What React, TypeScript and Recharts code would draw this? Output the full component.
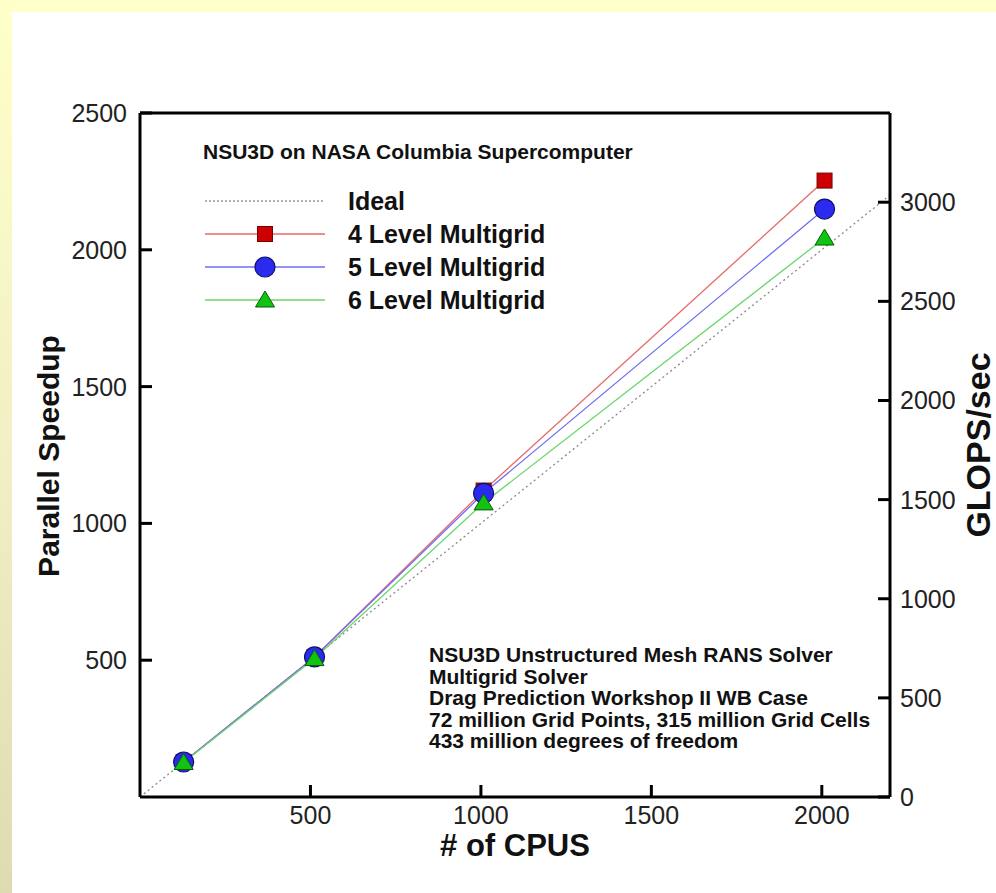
import React from "react";
import { LineChart, Line, XAxis, YAxis, ReferenceLine } from "recharts";

const cpus = [128, 512, 1008, 2008];
const speedup4 = [128, 512, 1120, 2253];
const speedup5 = [128, 512, 1110, 2149];
const speedup6 = [126, 506, 1075, 2043];
const idealCpus = [0, 2200];
const xTicks = [500, 1000, 1500, 2000];
const leftTicks = [500, 1000, 1500, 2000, 2500];
const rightTicks = [0, 500, 1000, 1500, 2000, 2500, 3000];
const legendNames = ["Ideal", "4 Level Multigrid", "5 Level Multigrid", "6 Level Multigrid"];
const chartTitle = "NSU3D on NASA Columbia Supercomputer";
const noteLines = [
  "NSU3D Unstructured Mesh RANS Solver",
  "Multigrid Solver",
  "Drag Prediction Workshop II WB Case",
  "72 million Grid Points, 315 million Grid Cells",
  "433 million degrees of freedom",
];

const mg4Data = cpus.map((c, i) => ({ cpu: c, value: speedup4[i] }));
const mg5Data = cpus.map((c, i) => ({ cpu: c, value: speedup5[i] }));
const mg6Data = cpus.map((c, i) => ({ cpu: c, value: speedup6[i] }));
const idealData = idealCpus.map((c) => ({ cpu: c, value: c }));

const FONT = "'Liberation Sans', Arial, Helvetica, sans-serif";

const RED = { line: "#E46A6A", fill: "#CC0000", stroke: "#7A0000" };
const BLUE = { line: "#6F6FF2", fill: "#2B2BF0", stroke: "#10106A" };
const GREEN = { line: "#6CD66C", fill: "#11C411", stroke: "#0A5A0A" };

const Square = (cx: number, cy: number, key?: any) => (
  <rect key={key} x={cx - 7.5} y={cy - 7.5} width={15} height={15} fill={RED.fill} stroke={RED.stroke} strokeWidth={1} />
);
const Circle = (cx: number, cy: number, key?: any) => (
  <circle key={key} cx={cx} cy={cy} r={10} fill={BLUE.fill} stroke={BLUE.stroke} strokeWidth={1.2} />
);
const Triangle = (cx: number, cy: number, key?: any) => (
  <polygon
    key={key}
    points={`${cx},${cy - 9} ${cx + 9.5},${cy + 7} ${cx - 9.5},${cy + 7}`}
    fill={GREEN.fill}
    stroke={GREEN.stroke}
    strokeWidth={1}
  />
);

const LeftTick = (props: any) => {
  const { x, y, payload } = props;
  return (
    <g>
      <line x1={x} x2={x + 12} y1={y} y2={y} stroke="#000" strokeWidth={3} />
      <text x={x - 13} y={y} textAnchor="end" dominantBaseline="central" fontSize={25} fontFamily={FONT} fill="#222">
        {payload.value}
      </text>
    </g>
  );
};

const RightTick = (props: any) => {
  const { x, y, payload } = props;
  return (
    <g>
      <line x1={x - 12} x2={x} y1={y} y2={y} stroke="#000" strokeWidth={3} />
      <text x={x + 10} y={y} textAnchor="start" dominantBaseline="central" fontSize={25} fontFamily={FONT} fill="#222">
        {payload.value}
      </text>
    </g>
  );
};

const BottomTick = (props: any) => {
  const { x, y, payload } = props;
  return (
    <g>
      <line x1={x} x2={x} y1={y - 12} y2={y} stroke="#000" strokeWidth={3} />
      <text x={x} y={y + 27} textAnchor="middle" fontSize={25} fontFamily={FONT} fill="#222">
        {payload.value}
      </text>
    </g>
  );
};

const legendColors = ["#999", RED.line, BLUE.line, GREEN.line];
const legendMarkers = [
  null,
  (cx: number, cy: number) => Square(cx, cy),
  (cx: number, cy: number) => Circle(cx, cy),
  (cx: number, cy: number) => Triangle(cx, cy),
];

export default function App() {
  return (
    <div style={{ position: "absolute", left: 0, top: 0, width: 996, height: 893, overflow: "hidden", background: "#fff" }}>
      <div style={{ position: "absolute", left: 0, top: 0, width: 996, height: 12, background: "#FFFFCA" }} />
      <div
        style={{
          position: "absolute",
          left: 0,
          top: 0,
          width: 12,
          height: 893,
          background: "linear-gradient(#FFFFCA, #F2F0C4 50%, #DEDBB0)",
        }}
      />
      <div style={{ position: "absolute", left: 0, top: 0 }}>
        <LineChart width={996} height={893} margin={{ top: 113, right: 26, bottom: 36, left: 60 }}>
          <XAxis
            dataKey="cpu"
            type="number"
            domain={[0, 2200]}
            ticks={xTicks}
            allowDataOverflow
            height={60}
            tickSize={0}
            tickMargin={0}
            tickLine={false}
            axisLine={{ stroke: "#000", strokeWidth: 3 }}
            tick={<BottomTick />}
            interval={0}
          />
          <YAxis
            yAxisId="left"
            orientation="left"
            type="number"
            domain={[0, 2500]}
            ticks={leftTicks}
            allowDataOverflow
            width={80}
            tickSize={0}
            tickMargin={0}
            tickLine={false}
            axisLine={{ stroke: "#000", strokeWidth: 3 }}
            tick={<LeftTick />}
            interval={0}
          />
          <YAxis
            yAxisId="right"
            orientation="right"
            type="number"
            domain={[0, 3450]}
            ticks={rightTicks}
            allowDataOverflow
            width={80}
            tickSize={0}
            tickMargin={0}
            tickLine={false}
            axisLine={{ stroke: "#000", strokeWidth: 3 }}
            tick={<RightTick />}
            interval={0}
          />
          <ReferenceLine yAxisId="left" y={2500} stroke="#000" strokeWidth={3} />
          <Line
            yAxisId="left"
            data={idealData}
            dataKey="value"
            name="Ideal"
            stroke="#8a8a8a"
            strokeWidth={1.3}
            strokeDasharray="2 3"
            dot={false}
            activeDot={false}
            isAnimationActive={false}
          />
          <Line
            yAxisId="left"
            data={mg4Data}
            dataKey="value"
            name="4 Level Multigrid"
            stroke={RED.line}
            strokeWidth={1.3}
            dot={(p: any) => Square(p.cx, p.cy, `r${p.index}`)}
            activeDot={false}
            isAnimationActive={false}
          />
          <Line
            yAxisId="left"
            data={mg5Data}
            dataKey="value"
            name="5 Level Multigrid"
            stroke={BLUE.line}
            strokeWidth={1.3}
            dot={(p: any) => Circle(p.cx, p.cy, `b${p.index}`)}
            activeDot={false}
            isAnimationActive={false}
          />
          <Line
            yAxisId="left"
            data={mg6Data}
            dataKey="value"
            name="6 Level Multigrid"
            stroke={GREEN.line}
            strokeWidth={1.3}
            dot={(p: any) => Triangle(p.cx, p.cy, `g${p.index}`)}
            activeDot={false}
            isAnimationActive={false}
          />
        </LineChart>
      </div>
      <svg
        width={996}
        height={893}
        style={{ position: "absolute", left: 0, top: 0, pointerEvents: "none" }}
        fontFamily={FONT}
      >
        <text x={203} y={159} fontSize={21} fontWeight="bold" fill="#111">
          {chartTitle}
        </text>
        {legendNames.map((n, i) => {
          const cy = 201 + i * 33;
          const m = legendMarkers[i];
          return (
            <g key={n}>
              <line
                x1={205}
                x2={325}
                y1={cy}
                y2={cy}
                stroke={legendColors[i]}
                strokeWidth={i === 0 ? 1.5 : 1.3}
                strokeDasharray={i === 0 ? "2 2" : undefined}
              />
              {m ? m(265, cy) : null}
              <text x={348} y={cy} dominantBaseline="central" fontSize={25} fontWeight="bold" fill="#111">
                {n}
              </text>
            </g>
          );
        })}
        {noteLines.map((t, i) => (
          <text key={t} x={429} y={662 + i * 21.5} fontSize={21} fontWeight="bold" fill="#111">
            {t}
          </text>
        ))}
        <text x={515} y={856} textAnchor="middle" fontSize={31} fontWeight="bold" fill="#111">
          # of CPUS
        </text>
        <text
          x={59}
          y={456}
          textAnchor="middle"
          fontSize={30}
          fontWeight="bold"
          fill="#111"
          transform="rotate(-90 59 456)"
        >
          Parallel Speedup
        </text>
        <text
          x={990}
          y={445}
          textAnchor="middle"
          fontSize={34}
          fontWeight="bold"
          fill="#111"
          transform="rotate(-90 990 445)"
        >
          GLOPS/sec
        </text>
      </svg>
    </div>
  );
}
